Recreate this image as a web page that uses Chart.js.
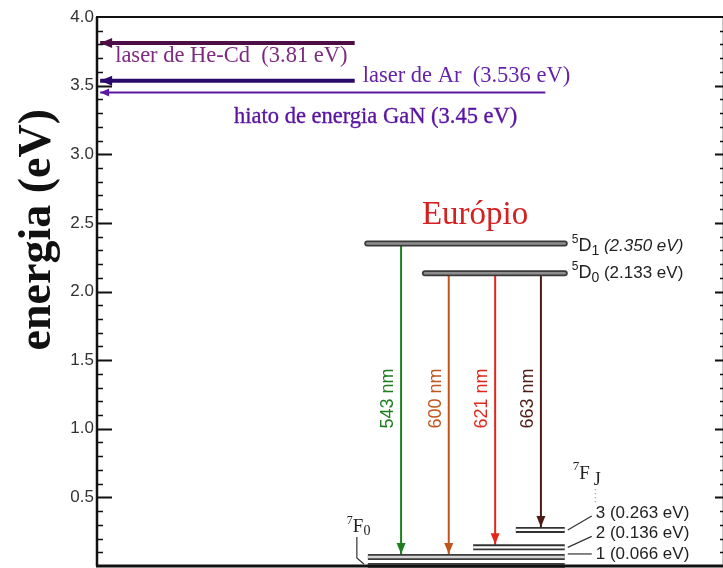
<!DOCTYPE html>
<html>
<head>
<meta charset="utf-8">
<script src="https://cdn.jsdelivr.net/npm/chart.js@4.4.1/dist/chart.umd.min.js"></script>
<style>
  html, body { margin: 0; padding: 0; background: #fff; overflow: hidden; width: 723px; height: 568px; }
  #wrap { position: relative; width: 726px; height: 568px; }
</style>
</head>
<body>
<div id="wrap"><canvas id="c" width="726" height="568"></canvas></div>
<script>
// Eu3+ energy levels (eV) and their horizontal extent on the schematic axis (0-100)
const levelNames  = ['5D1', '5D0', '7F0', '7F1', '7F2', '7F3'];
const levelEnergy = [2.350, 2.133, 0, 0.066, 0.136, 0.263];
const levelFrom   = [43.1, 52.3, 43.2, 43.2, 60.0, 66.8];
const levelTo     = [74.6, 74.6, 74.6, 74.6, 74.6, 74.6];

// Radiative transitions 5D -> 7F
const transitionLabels = ['543 nm', '600 nm', '621 nm', '663 nm'];
const transitionUpper  = ['5D1', '5D0', '5D0', '5D0'];
const transitionLower  = ['7F1', '7F1', '7F2', '7F3'];
const transitionAt     = [48.5, 56.1, 63.5, 70.8];

// Excitation sources / host band gap
const sourceLabels = ['laser de He-Cd  (3.81 eV)', 'hiato de energia GaN (3.45 eV)', 'laser de Ar  (3.536 eV)'];
const sourceEnergy = [3.81, 3.45, 3.536];
const sourceReach  = [41.1, 71.5, 41.1];

// Energy ticks (0 carries no label)
const yTicks = [0, 0.5, 1.0, 1.5, 2.0, 2.5, 3.0, 3.5, 4.0];

const SERIF = "'Liberation Serif', 'Times New Roman', serif";
const SANS = "'Liberation Sans', Arial, Helvetica, sans-serif";

const energyOf = name => levelEnergy[levelNames.indexOf(name)];

const levelLook = {
  '5D1': { edge: '#3a3a3a', core: '#8e8e8e', cap: 'round' },
  '5D0': { edge: '#3a3a3a', core: '#8e8e8e', cap: 'round' },
  '7F0': { edge: '#3c3c3c', core: '#d4d4d4', cap: 'butt' },
  '7F1': { edge: '#3c3c3c', core: '#d4d4d4', cap: 'butt' },
  '7F2': { edge: '#333333', core: '#ffffff', cap: 'butt' },
  '7F3': { edge: '#333333', core: '#ffffff', cap: 'butt' }
};
const transitionColors = ['#1f7f1f', '#c0561e', '#e3261a', '#4d1c14'];
const sourceLook = [
  { line: '#4d0f45', text: '#7d2a80', width: 4 },
  { line: '#5a1aa0', text: '#5a14a0', width: 2 },
  { line: '#2a0a6a', text: '#6422aa', width: 4 }
];

const seg = (x1, y1, x2, y2) => [{ x: x1, y: y1 }, { x: x2, y: y2 }];
const base = { type: 'line', pointRadius: 0, fill: false, clip: false, tension: 0 };

const datasets = [];
// level cores (topmost), then level edges
levelNames.forEach((n, i) => {
  datasets.push(Object.assign({}, base, {
    label: n, data: seg(levelFrom[i], levelEnergy[i], levelTo[i], levelEnergy[i]),
    borderColor: levelLook[n].core, borderWidth: 2.4, borderCapStyle: levelLook[n].cap
  }));
});
levelNames.forEach((n, i) => {
  datasets.push(Object.assign({}, base, {
    label: n + ' edge', data: seg(levelFrom[i], levelEnergy[i], levelTo[i], levelEnergy[i]),
    borderColor: levelLook[n].edge, borderWidth: 6, borderCapStyle: levelLook[n].cap
  }));
});
const transitionStart = datasets.length;
transitionLabels.forEach((t, i) => {
  datasets.push(Object.assign({}, base, {
    label: t,
    data: seg(transitionAt[i], energyOf(transitionUpper[i]), transitionAt[i], energyOf(transitionLower[i])),
    borderColor: transitionColors[i], borderWidth: 2
  }));
});
const sourceStart = datasets.length;
sourceLabels.forEach((t, i) => {
  datasets.push(Object.assign({}, base, {
    label: t,
    data: seg(sourceReach[i], sourceEnergy[i], 0.5, sourceEnergy[i]),
    borderColor: sourceLook[i].line, borderWidth: sourceLook[i].width
  }));
});

function arrowHead(ctx, tipX, tipY, dirX, dirY, len, half, color) {
  const bx = tipX - dirX * len, by = tipY - dirY * len;
  const px = -dirY, py = dirX;
  ctx.beginPath();
  ctx.moveTo(tipX, tipY);
  ctx.lineTo(bx + px * half, by + py * half);
  ctx.lineTo(bx - px * half, by - py * half);
  ctx.closePath();
  ctx.fillStyle = color;
  ctx.fill();
}

// draws text pieces side by side: [{t, font, dy, dx}]
function rich(ctx, x, y, parts, color) {
  ctx.fillStyle = color;
  ctx.textAlign = 'left';
  ctx.textBaseline = 'alphabetic';
  for (const p of parts) {
    ctx.font = p.font;
    ctx.fillText(p.t, x + (p.dx || 0), y + (p.dy || 0));
    x += ctx.measureText(p.t).width + (p.dx || 0);
  }
  return x;
}

const diagram = {
  id: 'diagram',
  afterDatasetsDraw(chart) {
    const { ctx, chartArea: a, scales: { x: xs, y: ys } } = chart;
    ctx.save();

    // frame
    ctx.strokeStyle = '#111';
    ctx.lineCap = 'butt';
    ctx.lineWidth = 2;
    ctx.beginPath(); ctx.moveTo(a.left - 1, a.top); ctx.lineTo(a.right + 1, a.top); ctx.stroke();
    ctx.lineWidth = 2.5;
    ctx.beginPath(); ctx.moveTo(a.left, a.top); ctx.lineTo(a.left, a.bottom); ctx.stroke();
    ctx.beginPath(); ctx.moveTo(a.right, a.top); ctx.lineTo(a.right, a.bottom); ctx.stroke();
    ctx.lineWidth = 3;
    ctx.beginPath(); ctx.moveTo(a.left - 1, a.bottom); ctx.lineTo(a.right + 1, a.bottom); ctx.stroke();

    // inward ticks every 0.1 eV, long ones every 0.5 eV
    for (let i = 1; i < 40; i++) {
      const py = Math.round(ys.getPixelForValue(i / 10)) + 0.5;
      const major = i % 5 === 0;
      ctx.lineWidth = major ? 2 : 1.3;
      ctx.beginPath();
      ctx.moveTo(a.left, py); ctx.lineTo(a.left + (major ? 15 : 6), py);
      ctx.moveTo(a.right, py); ctx.lineTo(a.right - (major ? 9 : 4), py);
      ctx.stroke();
    }

    // excitation arrows: heads and labels
    sourceLabels.forEach((t, i) => {
      const pts = chart.getDatasetMeta(sourceStart + i).data;
      const tip = pts[1], tail = pts[0];
      const thick = sourceLook[i].width > 3;
      arrowHead(ctx, tip.x, tip.y, -1, 0, thick ? 12 : 9, thick ? 5 : 4, sourceLook[i].line);
      ctx.font = '22.5px ' + SERIF;
      ctx.fillStyle = sourceLook[i].text;
      ctx.textBaseline = 'alphabetic';
      if (i === 0) {
        ctx.textAlign = 'left';
        ctx.fillText(t, tip.x + 15, tip.y + 19);
      } else if (i === 1) {
        ctx.textAlign = 'right';
        ctx.lineWidth = 0.35;
        ctx.strokeStyle = sourceLook[i].text;
        ctx.fillText(t, tail.x - 28, tip.y + 31);
        ctx.strokeText(t, tail.x - 28, tip.y + 31);
      } else {
        ctx.textAlign = 'left';
        ctx.fillText(t, tail.x + 8, tip.y + 1.5);
      }
    });

    // transition arrowheads and wavelength labels
    transitionLabels.forEach((t, i) => {
      const pts = chart.getDatasetMeta(transitionStart + i).data;
      const end = pts[1];
      arrowHead(ctx, end.x, end.y - 3, 0, 1, 11, 4.5, transitionColors[i]);
      ctx.save();
      ctx.translate(end.x - 13, ys.getPixelForValue(1.22));
      ctx.rotate(-Math.PI / 2);
      ctx.font = '18px ' + SANS;
      ctx.fillStyle = transitionColors[i];
      ctx.textAlign = 'center';
      ctx.textBaseline = 'middle';
      ctx.fillText(t, 0, 0);
      ctx.restore();
    });

    // level labels
    const lx = name => xs.getPixelForValue(levelTo[levelNames.indexOf(name)]);
    const lx0 = name => xs.getPixelForValue(levelFrom[levelNames.indexOf(name)]);
    const ly = name => ys.getPixelForValue(energyOf(name));
    const dark = '#222';

    rich(ctx, lx('5D1') + 7, ly('5D1') + 8, [
      { t: '5', font: '12px ' + SANS, dy: -8 },
      { t: 'D', font: '18px ' + SANS },
      { t: '1', font: '14px ' + SANS, dy: 4 },
      { t: ' (2.350 eV)', font: 'italic 17px ' + SANS }
    ], dark);
    rich(ctx, lx('5D0') + 7, ly('5D0') + 5, [
      { t: '5', font: '12px ' + SANS, dy: -8 },
      { t: 'D', font: '18px ' + SANS },
      { t: '0', font: '14px ' + SANS, dy: 4 },
      { t: ' (2.133 eV)', font: '17px ' + SANS }
    ], dark);

    // 7F_J manifold
    const jx = lx('7F3');
    const j3 = ly('7F3');
    rich(ctx, jx + 8, j3 - 51, [
      { t: '7', font: '13px ' + SERIF, dy: -9 },
      { t: 'F', font: '19px ' + SERIF },
      { t: 'J', font: '18px ' + SERIF, dy: 6, dx: 4 }
    ], dark);
    ctx.fillStyle = '#999';
    for (let k = 0; k < 4; k++) ctx.fillRect(jx + 30, j3 - 41 + k * 4, 1, 1.3);

    const fOffsets = { '7F3': -17, '7F2': -14, '7F1': -3 };
    const fTexts = { '7F3': '3 (0.263 eV)', '7F2': '2 (0.136 eV)', '7F1': '1 (0.066 eV)' };
    ctx.strokeStyle = '#333';
    ctx.lineWidth = 1.2;
    ['7F3', '7F2', '7F1'].forEach(n => {
      const bx = lx(n), by = ly(n), ty = by + fOffsets[n];
      ctx.beginPath();
      ctx.moveTo(bx + 3, by + (n === '7F1' ? -3 : 0));
      ctx.lineTo(bx + 27, ty + (n === '7F1' ? 0 : 3));
      ctx.stroke();
      ctx.font = '17px ' + SANS;
      ctx.fillStyle = dark;
      ctx.textAlign = 'left';
      ctx.textBaseline = 'middle';
      ctx.fillText(fTexts[n], bx + 31, ty);
    });

    // 7F0 tag with bracket
    const f0x = lx0('7F0'), f0y = ly('7F0');
    rich(ctx, f0x - 21, f0y - 34, [
      { t: '7', font: '12px ' + SERIF, dy: -8 },
      { t: 'F', font: '19px ' + SERIF },
      { t: '0', font: '14px ' + SERIF, dy: 3 }
    ], dark);
    ctx.strokeStyle = '#333';
    ctx.lineWidth = 1.2;
    ctx.beginPath();
    ctx.moveTo(f0x - 11, f0y - 29);
    ctx.lineTo(f0x - 11, f0y - 8);
    ctx.lineTo(f0x - 4, f0y - 2);
    ctx.stroke();

    // element name
    ctx.font = '33px ' + SERIF;
    ctx.fillStyle = '#d42020';
    ctx.textAlign = 'center';
    ctx.textBaseline = 'alphabetic';
    ctx.fillText('Európio', xs.getPixelForValue(60.3), ly('5D1') - 19);

    // axis title
    ctx.save();
    ctx.translate(50, ys.getPixelForValue(2.45));
    ctx.rotate(-Math.PI / 2);
    ctx.font = 'bold 46px ' + SERIF;
    ctx.fillStyle = '#111';
    ctx.textAlign = 'center';
    ctx.textBaseline = 'alphabetic';
    ctx.fillText('energia (eV)', 0, 0);
    ctx.restore();

    ctx.restore();
  }
};

new Chart(document.getElementById('c'), {
  type: 'line',
  data: { datasets },
  options: {
    responsive: false,
    animation: false,
    events: [],
    layout: { padding: { top: 17, right: 2, bottom: 2, left: 0 } },
    plugins: { legend: { display: false }, tooltip: { enabled: false }, title: { display: false } },
    scales: {
      x: { type: 'linear', min: 0, max: 100, display: false },
      y: {
        type: 'linear', min: 0, max: 4,
        afterFit(s) { s.width = 97; s.paddingTop = 0; s.paddingBottom = 0; },
        afterBuildTicks(s) { s.ticks = yTicks.map(v => ({ value: v })); },
        ticks: {
          callback: v => (v === 0 ? null : v.toFixed(1)),
          font: { family: SANS, size: 17 },
          color: '#333',
          padding: 3
        },
        grid: { display: false, drawTicks: false },
        border: { display: false }
      }
    }
  },
  plugins: [diagram]
});
</script>
</body>
</html>
